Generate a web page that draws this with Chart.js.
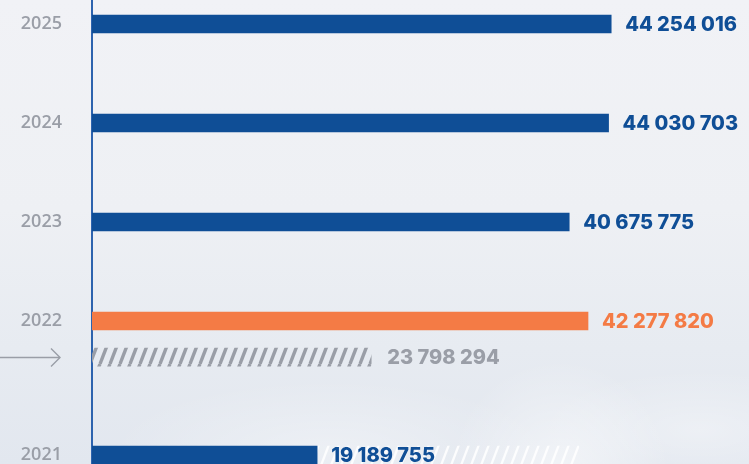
<!DOCTYPE html>
<html><head><meta charset="utf-8">
<script src="https://cdn.jsdelivr.net/npm/chart.js@4.4.1/dist/chart.umd.min.js"></script>
<style>
html,body{margin:0;padding:0;}
body{width:749px;height:464px;overflow:hidden;
background:
 radial-gradient(ellipse 110px 110px at 560px 470px, rgba(255,255,255,0.55), rgba(255,255,255,0) 100%),
 radial-gradient(ellipse 220px 70px at 330px 450px, rgba(255,255,255,0.35), rgba(255,255,255,0)),
 radial-gradient(ellipse 160px 60px at 700px 430px, rgba(255,255,255,0.35), rgba(255,255,255,0)),
 linear-gradient(180deg,#f1f2f6 0%,#eef0f4 45%,#e7ebf1 75%,#e2e7ef 100%);}
#wrap{position:relative;width:749px;height:464px;}
</style></head><body>
<div id="wrap"><canvas id="c" width="749" height="464"></canvas></div>
<script>
// ---- data ----
const years = ['2025', '2024', '2023', '2022', '2021'];
const passengers = [44254016, 44030703, 40675775, 42277820, 19189755];
const highlightYear = '2022';
const comparisonYear = '2022';
const comparisonValue = 23798294;
const backdropYear = '2021';
const backdropValue = 41500000;

// ---- layout (row positions on the linear index scale) ----
const SUB_OFFSET = 0.364, EXTRA_GAP = 0.354;
const rowPos = {};
(function () { let p = 0; years.forEach(y => { rowPos[y] = p; p += 1 + (y === comparisonYear ? EXTRA_GAP : 0); }); })();

const BLUE = '#0f4e96', ORANGE = '#f47b45', GRAY = '#9a9ea7';
const fmt = v => String(v).replace(/\B(?=(\d{3})+(?!\d))/g, ' ');

const canvas = document.getElementById('c');
const ctx0 = canvas.getContext('2d');
function hatch(color, lw) {
  const w = 10, h = 26;
  const c = document.createElement('canvas'); c.width = w; c.height = h;
  const x = c.getContext('2d');
  x.strokeStyle = color; x.lineWidth = lw;
  for (let k = -1; k <= 1; k++) { x.beginPath(); x.moveTo(k * w, h); x.lineTo(k * w + w, 0); x.stroke(); }
  return ctx0.createPattern(c, 'repeat');
}

const labelPlugin = {
  id: 'valueLabels',
  afterDatasetsDraw(chart) {
    const ctx = chart.ctx;
    ctx.save();
    ctx.font = '800 20px Inter';
    ctx.textBaseline = 'middle';
    ctx.textAlign = 'left';
    const main = chart.getDatasetMeta(0);
    main.data.forEach((bar, i) => {
      ctx.fillStyle = years[i] === highlightYear ? ORANGE : BLUE;
      ctx.fillText(fmt(passengers[i]), bar.x + 14, bar.y + 1);
    });
    const cmp = chart.getDatasetMeta(1);
    cmp.data.forEach(bar => {
      ctx.fillStyle = GRAY;
      ctx.fillText(fmt(comparisonValue), bar.x + 16, bar.y + 1);
    });
    // arrow pointing at the comparison row
    const ya = Math.round(chart.scales.y.getPixelForValue(rowPos[comparisonYear] + SUB_OFFSET)) + 0.5;
    ctx.strokeStyle = GRAY; ctx.lineWidth = 1.4;
    ctx.beginPath(); ctx.moveTo(0, ya); ctx.lineTo(60, ya); ctx.stroke();
    ctx.beginPath(); ctx.moveTo(51, ya - 9); ctx.lineTo(60, ya); ctx.lineTo(51, ya + 9); ctx.stroke();
    ctx.restore();
  }
};

new Chart(canvas, {
  type: 'bar',
  data: {
    datasets: [
      {
        label: 'Passengers',
        data: years.map((y, i) => ({ x: passengers[i], y: rowPos[y] })),
        backgroundColor: years.map(y => y === highlightYear ? ORANGE : BLUE),
        order: 0
      },
      {
        label: 'Comparison',
        data: [{ x: comparisonValue, y: rowPos[comparisonYear] + SUB_OFFSET }],
        backgroundColor: hatch(GRAY, 3.4),
        order: 1
      },
      {
        label: 'Backdrop',
        data: [{ x: backdropValue, y: rowPos[backdropYear] }],
        backgroundColor: hatch('rgba(255,255,255,0.85)', 2.4),
        order: 2
      }
    ]
  },
  options: {
    indexAxis: 'y',
    responsive: false,
    animation: false,
    layout: { padding: 0, autoPadding: false },
    datasets: { bar: { grouped: false, barThickness: 18, borderWidth: 0 } },
    plugins: { legend: { display: false }, tooltip: { enabled: false } },
    scales: {
      x: { type: 'linear', min: 0, max: 56000000, display: false, offset: false },
      y: {
        type: 'linear', reverse: true, min: -0.2424, max: 4.444, position: 'left', offset: false,
        grid: { display: false, drawTicks: false, offset: false },
        border: { display: true, color: '#2d63ae', width: 2 },
        afterBuildTicks: s => { s.ticks = years.map(y => ({ value: rowPos[y] })); },
        afterFit: s => { s.width = 92; s.paddingTop = 0; s.paddingBottom = 0; },
        ticks: {
          padding: 30, autoSkip: false, color: GRAY,
          font: { family: 'Open Sans', size: 18, weight: '600' },
          callback: v => { const y = years.find(k => Math.abs(rowPos[k] - v) < 1e-6); return y || ''; }
        }
      }
    }
  },
  plugins: [labelPlugin]
});
</script>
</body></html>
